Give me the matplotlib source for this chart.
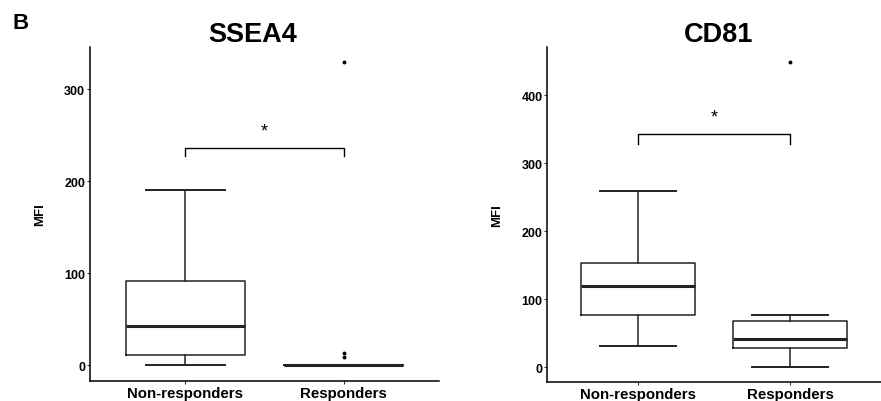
import numpy as np
import matplotlib
matplotlib.use('Agg')
import matplotlib.pyplot as plt

plt.rcParams['font.family'] = ['Liberation Sans', 'DejaVu Sans']

groups = ['Non-responders', 'Responders']

# SSEA4 box stats: low whisker, q1, median, q3, high whisker
ssea4_nr = [0, 11, 42, 91, 190]
ssea4_r = [0, 0, 0, 0, 0]
ssea4_out_nr = []
ssea4_out_r = [8.5, 13, 330]
ssea4_bracket = [227, 236.5]
ssea4_star = 245

# CD81
cd81_nr = [31, 77, 120, 153, 259]
cd81_r = [0, 29, 41, 68, 77]
cd81_out_nr = []
cd81_out_r = [449]
cd81_bracket = [328, 343]
cd81_star = 355


def make_stats(s, fl):
    return dict(whislo=s[0], q1=s[1], med=s[2], q3=s[3], whishi=s[4], fliers=fl)


def draw_panel(ax, title, title_x, nr, r, out_nr, out_r, bracket, star, ylim, yticks):
    stats = [make_stats(nr, out_nr), make_stats(r, out_r)]
    ax.bxp(stats, positions=[1, 2], widths=0.75, capwidths=0.5,
           boxprops=dict(color='#222222', lw=1.1),
           whiskerprops=dict(color='#222222', lw=1.1),
           capprops=dict(color='#222222', lw=1.4),
           medianprops=dict(color='#222222', lw=2.2),
           flierprops=dict(marker='o', markersize=1.8, markerfacecolor='black',
                           markeredgecolor='black'))
    ax.plot([1, 1, 2, 2], [bracket[0], bracket[1], bracket[1], bracket[0]],
            color='black', lw=1.0)
    ax.text(1.5, star, '*', ha='center', va='bottom', fontsize=13)
    ax.set_xlim(0.4, 2.6)
    ax.set_ylim(*ylim)
    ax.set_yticks(yticks)
    ax.set_xticks([1, 2])
    ax.set_xticklabels(groups, fontsize=10.8, fontweight='bold')
    for lab in ax.get_yticklabels():
        lab.set_fontsize(9)
        lab.set_fontweight('bold')
    ax.set_ylabel('MFI', fontsize=9.5, fontweight='bold', labelpad=13)
    ax.set_title(title, fontsize=19.5, fontweight='bold', pad=4, x=title_x)
    ax.spines['top'].set_visible(False)
    ax.spines['right'].set_visible(False)
    ax.spines['left'].set_linewidth(1.1)
    ax.spines['bottom'].set_linewidth(1.1)
    ax.tick_params(length=2, width=0.8, color='#333333', pad=1.5)


fig = plt.figure(figsize=(8.81, 4.02), dpi=100)
ax1 = fig.add_axes([0.1022, 0.0505, 0.3960, 0.8300])
ax2 = fig.add_axes([0.6212, 0.0465, 0.3788, 0.8340])

draw_panel(ax1, 'SSEA4', 0.466, ssea4_nr, ssea4_r, ssea4_out_nr, ssea4_out_r,
           ssea4_bracket, ssea4_star, (-17, 346), [0, 100, 200, 300])
draw_panel(ax2, 'CD81', 0.512, cd81_nr, cd81_r, cd81_out_nr, cd81_out_r,
           cd81_bracket, cd81_star, (-22, 471), [0, 100, 200, 300, 400])

fig.text(0.0144, 0.928, 'B', fontsize=16, fontweight='bold', va='baseline', ha='left')

fig.savefig('out.png', dpi=100)
